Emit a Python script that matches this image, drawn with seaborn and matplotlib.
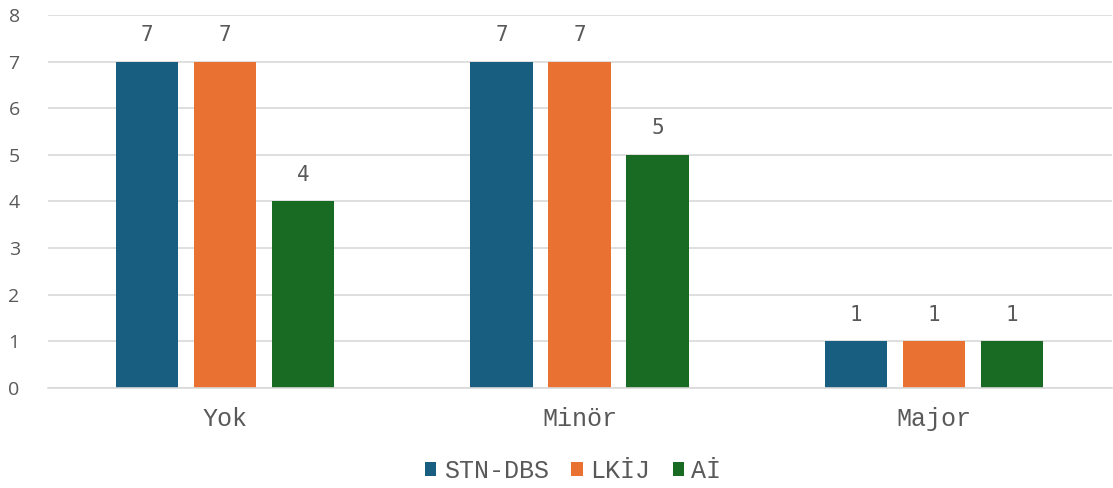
import matplotlib
matplotlib.use("Agg")
import matplotlib.pyplot as plt
import seaborn as sns
import pandas as pd

categories = ["Yok", "Minör", "Major"]
series = ["STN-DBS", "LKİJ", "Aİ"]
stn_dbs = [7, 7, 1]
lkij = [7, 7, 1]
ai = [4, 5, 1]
y_ticks = [0, 1, 2, 3, 4, 5, 6, 7, 8]

colors = ["#175e81", "#e97132", "#196b24"]
text_gray = "#595959"
grid_gray = "#d9d9d9"

rows = []
for name, vals in zip(series, [stn_dbs, lkij, ai]):
    for cat, v in zip(categories, vals):
        rows.append({"Kategori": cat, "Seri": name, "Değer": v})
df = pd.DataFrame(rows)

sns.set_theme(style="white")
fig = plt.figure(figsize=(11.13, 4.88), dpi=100)
ax = fig.add_axes([0.0427, 0.2049, 0.956, 0.7644])

sns.barplot(data=df, x="Kategori", y="Değer", hue="Seri", order=categories,
            hue_order=series, palette=colors, width=0.66, gap=0.2,
            saturation=1, ax=ax, legend=True, edgecolor="none")

ax.set_ylim(0, 8)
ax.set_xlim(-0.5, 2.5)
ax.set_yticks(y_ticks)
ax.yaxis.grid(True, color=grid_gray, linewidth=1.2)
ax.set_axisbelow(True)
for s in ["top", "right", "left"]:
    ax.spines[s].set_visible(False)
ax.spines["bottom"].set_color(grid_gray)
ax.spines["bottom"].set_linewidth(1.2)
ax.tick_params(axis="both", length=0)
ax.set_xlabel("")
ax.set_ylabel("")

for lab in ax.get_yticklabels():
    lab.set_fontfamily("Open Sans")
    lab.set_fontsize(14)
    lab.set_color(text_gray)
ax.tick_params(axis="y", pad=20)
for lab in ax.get_xticklabels():
    lab.set_fontfamily("Liberation Mono")
    lab.set_fontsize(18)
    lab.set_color(text_gray)
ax.tick_params(axis="x", pad=14)

for cont in ax.containers:
    ax.bar_label(cont, labels=[f"{v:g}" for v in cont.datavalues], padding=12,
                 fontsize=15, family="DejaVu Sans Mono", color=text_gray)

leg = ax.get_legend()
handles = leg.legend_handles
leg.remove()
fig.legend(handles, series, loc="center", bbox_to_anchor=(0.515, 0.035), ncol=3,
           frameon=False, prop={"family": "Liberation Mono", "size": 18},
           labelcolor=text_gray, handlelength=0.45, handleheight=0.45,
           handletextpad=0.3, columnspacing=0.9)

fig.savefig("out.png", dpi=100)
